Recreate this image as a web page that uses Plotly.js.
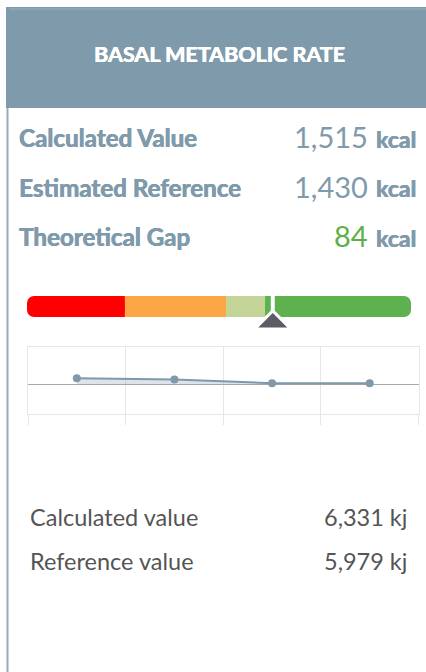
<!DOCTYPE html>
<html>
<head>
<meta charset="utf-8">
<script src="https://cdn.plot.ly/plotly-3.0.1.min.js"></script>
<style>
html,body{margin:0;padding:0;background:#fff;}
#chart{width:426px;height:672px;}
</style>
</head>
<body>
<div id="chart"></div>
<script>
// ---- data ----
var title = "BASAL METABOLIC RATE";
var rowLabels = ["Calculated Value", "Estimated Reference", "Theoretical Gap"];
var rowValues = ["1,515", "1,430", "84"];
var rowUnit = "kcal";
var gaugeBounds = [-300, -147, 11, 72, 300];
var gaugeColors = ["#ff0000", "#fca646", "#c3d496", "#5db14e"];
var gaugeMarker = 84;
var trendCats = ["P1", "P2", "P3", "P4"];
var trendValues = [20, 15.5, 3.5, 3.5];
var kjLabels = ["Calculated value", "Reference value"];
var kjValues = ["6,331 kj", "5,979 kj"];

// ---- helpers ----
var W = 426, H = 672;
function px(x){ return x / W; }
function py(y){ return 1 - y / H; }

var blue = "#7f9bab";
var traces = [];

// gauge segments
var nSeg = gaugeColors.length;
for (var i = 0; i < nSeg; i++) {
  var lo = gaugeBounds[i], hi = gaugeBounds[i + 1];
  var first = (i === 0), last = (i === nSeg - 1);
  if (first || last) {
    var baseR = first ? hi : lo;
    var lenR = first ? (lo - hi) : (hi - lo);
    traces.push({
      type: "bar", orientation: "h", x: [lenR], y: [0], base: [baseR], width: 21,
      xaxis: "x", yaxis: "y",
      marker: { color: gaugeColors[i], cornerradius: 7, line: { width: 0 } }, hoverinfo: "skip"
    });
    var mid = (lo + hi) / 2;
    var sLo = first ? mid : lo, sHi = first ? hi : mid;
    traces.push({
      type: "bar", orientation: "h", x: [sHi - sLo], y: [0], base: [sLo], width: 21,
      xaxis: "x", yaxis: "y",
      marker: { color: gaugeColors[i], line: { width: 0 } }, hoverinfo: "skip"
    });
  } else {
    traces.push({
      type: "bar", orientation: "h", x: [hi - lo], y: [0], base: [lo], width: 21,
      xaxis: "x", yaxis: "y",
      marker: { color: gaugeColors[i], line: { width: 0 } }, hoverinfo: "skip"
    });
  }
}

// trend line
traces.push({
  type: "scatter", mode: "lines+markers", x: trendCats, y: trendValues,
  xaxis: "x2", yaxis: "y2", fill: "tozeroy", fillcolor: "rgba(128,156,176,0.28)",
  line: { color: "#7f98aa", width: 2 }, marker: { color: "#7f98aa", size: 8 },
  cliponaxis: false, hoverinfo: "skip"
});

function boldFont(size, color) {
  return { family: "Lato", size: size, weight: 700, color: color,
           shadow: "0.45px 0 0 " + color + ", -0.2px 0 0 " + color };
}

var annotations = [];
annotations.push({
  text: title, xref: "paper", yref: "paper", x: px(219), y: py(53.5),
  xanchor: "center", yanchor: "middle", showarrow: false,
  font: boldFont(21.5, "#ffffff")
});
var rowY = [137.5, 187, 237];
for (var r = 0; r < rowLabels.length; r++) {
  annotations.push({
    text: rowLabels[r], xref: "paper", yref: "paper", x: px(17), y: py(rowY[r]),
    xanchor: "left", yanchor: "middle", showarrow: false,
    font: boldFont(24.2, blue)
  });
  annotations.push({
    text: rowValues[r], xref: "paper", yref: "paper", x: px(369.5), y: py(rowY[r] - 1),
    xanchor: "right", yanchor: "middle", showarrow: false,
    font: { family: "Lato", size: 29, color: (r === 2 ? "#5cb048" : blue) }
  });
  annotations.push({
    text: rowUnit, xref: "paper", yref: "paper", x: px(418), y: py(rowY[r] + 1),
    xanchor: "right", yanchor: "middle", showarrow: false,
    font: boldFont(23, blue)
  });
}
var kjY = [516.5, 561];
for (var k = 0; k < kjLabels.length; k++) {
  annotations.push({
    text: kjLabels[k], xref: "paper", yref: "paper", x: px(28), y: py(kjY[k]),
    xanchor: "left", yanchor: "middle", showarrow: false,
    font: { family: "Lato", size: 23.5, color: "#555555" }
  });
  annotations.push({
    text: kjValues[k], xref: "paper", yref: "paper", x: px(409), y: py(kjY[k]),
    xanchor: "right", yanchor: "middle", showarrow: false,
    font: { family: "Lato", size: 23.5, color: "#555555" }
  });
}

var shapes = [
  { type: "rect", xref: "paper", yref: "paper", x0: px(6), x1: 1, y0: py(108), y1: py(7),
    fillcolor: blue, line: { width: 0 }, layer: "below" },
  { type: "line", xref: "paper", yref: "paper", x0: px(9), x1: 1, y0: py(9), y1: py(9),
    line: { color: "#98afbe", width: 1 }, layer: "below" },
  { type: "line", xref: "paper", yref: "paper", x0: px(7.5), x1: px(7.5), y0: py(108), y1: 0,
    line: { color: "#94adbd", width: 2 }, layer: "below" },
  // pointer: white stem + white halo + dark triangle, anchored at the marker value
  { type: "line", xref: "x", yref: "y", x0: gaugeMarker, x1: gaugeMarker, y0: 10.5, y1: -6,
    line: { color: "#ffffff", width: 4 }, layer: "above" },
  { type: "path", xref: "x", yref: "y", xsizemode: "pixel", ysizemode: "pixel",
    xanchor: gaugeMarker, yanchor: 0,
    path: "M -21,-23 L 21,-23 L 0,-2.2 Z",
    fillcolor: "#ffffff", line: { width: 0 }, layer: "above" },
  { type: "path", xref: "x", yref: "y", xsizemode: "pixel", ysizemode: "pixel",
    xanchor: gaugeMarker, yanchor: 0,
    path: "M -14.5,-21 L 14.5,-21 L 0,-6.5 Z",
    fillcolor: "#5b5c64", line: { width: 0 }, layer: "above" }
];

var layout = {
  width: W, height: H, margin: { l: 0, r: 0, t: 0, b: 0, pad: 0 },
  paper_bgcolor: "#ffffff", plot_bgcolor: "rgba(0,0,0,0)",
  showlegend: false, barmode: "overlay",
  font: { family: "Lato" },
  xaxis: { domain: [px(27), px(411)], range: [gaugeBounds[0], gaugeBounds[4]], visible: false, fixedrange: true },
  yaxis: { domain: [py(336), py(286)], range: [-29.5, 20.5], visible: false, fixedrange: true },
  xaxis2: { domain: [px(28), px(418.5)], anchor: "y2", type: "category", range: [-0.5, 3.5],
    tickson: "boundaries", ticks: "outside", ticklen: 10, tickcolor: "#e3e6ea", tickwidth: 1,
    showgrid: true, gridcolor: "#e3e6ea", gridwidth: 1, showticklabels: false,
    showline: true, mirror: true, linecolor: "#e3e6ea", linewidth: 1, zeroline: false, fixedrange: true },
  yaxis2: { domain: [py(414), py(347)], anchor: "x2", range: [-100, 125],
    showgrid: false, showticklabels: false, ticks: "",
    showline: true, mirror: true, linecolor: "#e3e6ea", linewidth: 1,
    zeroline: true, zerolinecolor: "#a8a8a8", zerolinewidth: 1, fixedrange: true },
  annotations: annotations,
  shapes: shapes
};

Plotly.newPlot("chart", traces, layout, { staticPlot: true, displayModeBar: false });
</script>
</body>
</html>
